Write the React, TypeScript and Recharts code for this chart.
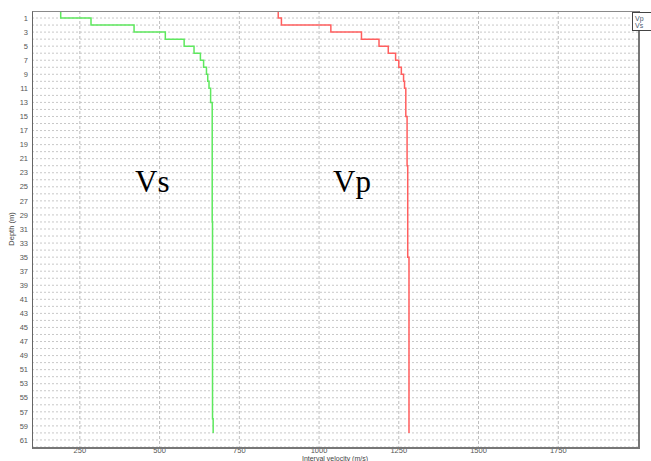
import React from 'react';
import { ScatterChart, Scatter, XAxis, YAxis, CartesianGrid } from 'recharts';

const vsLayerTop = [0, 1, 2, 3, 4, 5, 6, 7, 8, 9, 10, 11, 13, 30, 58];
const vsVelocity = [190, 285, 420, 518, 577, 608, 628, 638, 647, 651, 655, 660, 665, 666, 668];

const vpLayerTop = [0, 1, 2, 3, 4, 5, 6, 7, 8, 9, 10, 11, 15, 22, 35];
const vpVelocity = [872, 882, 1037, 1133, 1188, 1217, 1240, 1250, 1258, 1265, 1268, 1272, 1276, 1278, 1282];

const logBottom = 60;

const xTicks = [250, 500, 750, 1000, 1250, 1500, 1750];
const yTicks = [1, 3, 5, 7, 9, 11, 13, 15, 17, 19, 21, 23, 25, 27, 29, 31, 33, 35, 37, 39, 41, 43, 45, 47, 49, 51, 53, 55, 57, 59, 61];
const gridDepths = Array.from({ length: 62 }, (_, i) => i + 1);

const toSteps = (tops: number[], vels: number[], bottom: number) => {
    const pts: { v: number; d: number }[] = [];
    tops.forEach((top, i) => {
        const end = i < tops.length - 1 ? tops[i + 1] : bottom;
        pts.push({ v: vels[i], d: top });
        pts.push({ v: vels[i], d: end });
    });
    return pts;
};

const vsSteps = toSteps(vsLayerTop, vsVelocity, logBottom);
const vpSteps = toSteps(vpLayerTop, vpVelocity, logBottom);

const small = { fontFamily: '"Liberation Sans", Arial, sans-serif', fontSize: 7.5, fill: '#555' };
const noDot = () => <g />;

export default function App() {
    return (
        <div style={{ position: 'absolute', left: 0, top: 0, width: 651, height: 461, background: '#fff' }}>
            <ScatterChart width={651} height={461} margin={{ top: 11, right: 13, bottom: 0, left: 6 }}>
                <CartesianGrid horizontal={true} vertical={false} horizontalValues={gridDepths} stroke="#c8c8c8" strokeDasharray="2 2" />
                <CartesianGrid horizontal={false} vertical={true} verticalValues={xTicks} stroke="#bdbdbd" strokeDasharray="3 2" />
                <XAxis
                    type="number"
                    dataKey="v"
                    domain={[100, 2000]}
                    ticks={xTicks}
                    allowDataOverflow
                    height={14}
                    tickSize={0}
                    tickMargin={1}
                    axisLine={false}
                    tick={small}
                />
                <YAxis
                    type="number"
                    dataKey="d"
                    domain={[0, 62]}
                    ticks={yTicks}
                    interval={0}
                    reversed
                    allowDataOverflow
                    width={26}
                    tickSize={0}
                    tickMargin={4}
                    axisLine={false}
                    tick={small}
                />
                <Scatter data={vsSteps} line={{ stroke: '#5ee85e', strokeWidth: 1.5 }} shape={noDot} isAnimationActive={false} legendType="none" />
                <Scatter data={vpSteps} line={{ stroke: '#ff5f5f', strokeWidth: 1.5 }} shape={noDot} isAnimationActive={false} legendType="none" />
            </ScatterChart>

            {/* plot frame */}
            <div style={{ position: 'absolute', left: 32, top: 11, width: 605, height: 435, borderTop: '1px solid #8a8a8a', borderLeft: '1px solid #666', borderRight: '2px solid #777', borderBottom: '2px solid #777' }} />

            <svg width={651} height={461} style={{ position: 'absolute', left: 0, top: 0, pointerEvents: 'none' }}>
                <text x={135} y={192} fontFamily='"Liberation Serif", "Times New Roman", serif' fontSize={31} fill="#000">Vs</text>
                <text x={333} y={192} fontFamily='"Liberation Serif", "Times New Roman", serif' fontSize={31} fill="#000">Vp</text>
                <text x={14} y={229} transform="rotate(-90 14 229)" textAnchor="middle" style={{ ...small, fill: '#444' }}>Depth (m)</text>
                <text x={335} y={461} textAnchor="middle" style={{ ...small, fontSize: 7, fill: '#444' }}>Interval velocity (m/s)</text>
            </svg>

            {/* legend box */}
            <div style={{ position: 'absolute', left: 632, top: 12, width: 24, height: 19, background: '#fff', border: '1px solid #444', fontFamily: '"Liberation Sans", Arial, sans-serif', fontSize: 7, lineHeight: '7px', color: '#4a5a70', padding: '2px 0 0 2px', boxSizing: 'border-box' }}>
                <div>Vp</div>
                <div>Vs</div>
            </div>
        </div>
    );
}
